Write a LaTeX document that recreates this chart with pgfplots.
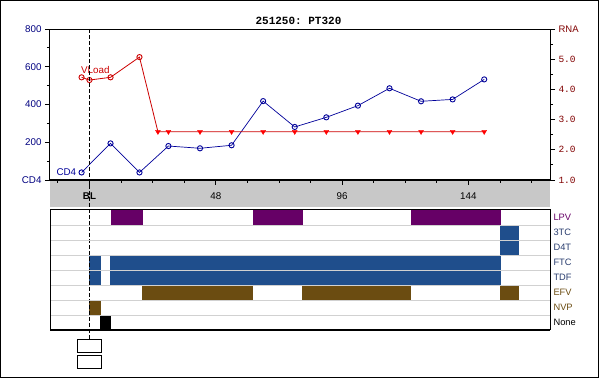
\documentclass[border=0pt]{standalone}
\usepackage{pgfplots}
\pgfplotsset{compat=1.18}
\usepackage{fontspec}
\setmainfont{Liberation Sans}
\setmonofont{Liberation Mono}
\definecolor{cdblue}{RGB}{0,0,153}
\definecolor{navy}{RGB}{0,0,128}
\definecolor{vlred}{RGB}{204,0,0}
\definecolor{darkred}{RGB}{128,0,0}
\definecolor{lpv}{RGB}{102,0,102}
\definecolor{nrti}{RGB}{31,78,140}
\definecolor{nrtilab}{RGB}{40,60,110}
\definecolor{nnrti}{RGB}{107,76,17}
\definecolor{band}{RGB}{200,200,200}

\pgfplotstableread{
x y
-3 40
8 194
19 40
30 180
42 168
54 184
66 418
78 281
90 332
102 394
114 486
126 417
138 427
150 533
}\cdfour

\pgfplotstableread{
x y
-3 4.40
0 4.31
8 4.40
19 5.07
26 2.6
30 2.6
42 2.6
54 2.6
66 2.6
78 2.6
90 2.6
102 2.6
114 2.6
126 2.6
138 2.6
150 2.6
}\vlall

\pgfplotstableread{
x y
-3 4.40
0 4.31
8 4.40
19 5.07
}\vldet

\pgfplotstableread{
x y
26 2.6
30 2.6
42 2.6
54 2.6
66 2.6
78 2.6
90 2.6
102 2.6
114 2.6
126 2.6
138 2.6
150 2.6
}\vlund

\begin{document}
\begin{tikzpicture}
\path[use as bounding box] (0pt,0pt) rectangle (600pt,-379pt);
\draw[line width=1pt] (0.5pt,-0.5pt) rectangle (598.5pt,-377.5pt);
\fill[band] (50pt,-180pt) rectangle (550pt,-207.3pt);
\node[font=\ttfamily\bfseries\fontsize{11}{13}\selectfont] at (298.5pt,-20.5pt) {251250: PT320};

% ---- top panel, CD4 (left axis)
\begin{axis}[at={(50pt,-180pt)}, anchor=south west, width=500pt, height=151pt, scale only axis,
  xmin=-15, xmax=175, ymin=0, ymax=800,
  axis line style={line width=1pt},
  xtick={0,48,96,144}, xticklabels={\textbf{BL},48,96,144},
  minor xtick={-12,12,24,36,60,72,84,108,120,132,156,168},
  ytick={0,200,400,600,800}, yticklabels={CD4,200,400,600,800},
  minor ytick={100,300,500,700},
  tick align=outside, ytick pos=left, xtick pos=bottom,
  major tick length=5pt, minor tick length=3pt,
  tick style={black, line width=0.8pt},
  yticklabel style={text=navy, font=\fontsize{9.8}{11}\selectfont},
  xticklabel style={text=black, font=\fontsize{9.8}{11}\selectfont, anchor=base, yshift=-15pt},
]
\addplot[cdblue, line width=0.7pt, mark=o, mark size=2.6pt, mark options={line width=0.9pt}] table {\cdfour};
\node[text=cdblue, anchor=east, font=\fontsize{9.8}{11}\selectfont, inner sep=1pt] at (axis cs:-4.6,40) {CD4};
\end{axis}

% ---- top panel, RNA (right axis)
\begin{axis}[at={(50pt,-180pt)}, anchor=south west, width=500pt, height=151pt, scale only axis,
  xmin=-15, xmax=175, ymin=1, ymax=6,
  axis x line=none, axis y line*=right,
  axis line style={line width=1pt},
  ytick={1,2,3,4,5,6}, yticklabels={1.0,2.0,3.0,4.0,5.0,{\rmfamily RNA}},
  minor ytick={1.5,2.5,3.5,4.5,5.5},
  tick align=outside,
  major tick length=5pt, minor tick length=3pt,
  tick style={black, line width=0.8pt},
  yticklabel style={text=darkred, font=\ttfamily\fontsize{9.5}{11}\selectfont},
]
\addplot[vlred, line width=0.8pt] table {\vlall};
\addplot[vlred, only marks, mark=o, mark size=2.6pt, mark options={line width=0.9pt}] table {\vldet};
\addplot[red, only marks, mark=triangle*, mark size=2.8pt, mark options={rotate=180}] table {\vlund};
\node[text=vlred, anchor=west, font=\fontsize{9.8}{11}\selectfont, inner sep=1pt] at (axis cs:-3.6,4.63) {VLoad};
\end{axis}

% ---- bottom panel, treatments
\begin{axis}[at={(50pt,-330pt)}, anchor=south west, width=500pt, height=120pt, scale only axis,
  xmin=-15, xmax=175, ymin=0, ymax=8,
  axis line style={line width=1pt},
  xtick=\empty,
  ytick={0.5,1.5,...,7.5},
  yticklabels={None,\textcolor{nnrti}{NVP},\textcolor{nnrti}{EFV},\textcolor{nrtilab}{TDF},\textcolor{nrtilab}{FTC},\textcolor{nrtilab}{D4T},\textcolor{nrtilab}{3TC},\textcolor{lpv}{LPV}},
  yticklabel pos=right,
  minor ytick={1,2,3,4,5,6,7},
  yminorgrids, minor grid style={black!18, line width=0.8pt},
  major tick length=0pt, minor tick length=0pt,
  yticklabel style={font=\fontsize{9.3}{11}\selectfont},
  axis on top, clip=false,
]
% LPV row 7
\addplot[fill=lpv, draw=none] coordinates {(8,7)(20.3,7)(20.3,8)(8,8)} --cycle;
\addplot[fill=lpv, draw=none] coordinates {(62,7)(81,7)(81,8)(62,8)} --cycle;
\addplot[fill=lpv, draw=none] coordinates {(122,7)(156.4,7)(156.4,8)(122,8)} --cycle;
% 3TC row 6
\addplot[fill=nrti, draw=none] coordinates {(156,6)(163.2,6)(163.2,7)(156,7)} --cycle;
% D4T row 5
\addplot[fill=nrti, draw=none] coordinates {(156,5)(163.2,5)(163.2,6)(156,6)} --cycle;
% FTC row 4
\addplot[fill=nrti, draw=none] coordinates {(0,4)(4.4,4)(4.4,5)(0,5)} --cycle;
\addplot[fill=nrti, draw=none] coordinates {(7.9,4)(156.4,4)(156.4,5)(7.9,5)} --cycle;
% TDF row 3
\addplot[fill=nrti, draw=none] coordinates {(0,3)(4.4,3)(4.4,4)(0,4)} --cycle;
\addplot[fill=nrti, draw=none] coordinates {(7.9,3)(156.4,3)(156.4,4)(7.9,4)} --cycle;
% EFV row 2
\addplot[fill=nnrti, draw=none] coordinates {(20,2)(62.1,2)(62.1,3)(20,3)} --cycle;
\addplot[fill=nnrti, draw=none] coordinates {(80.7,2)(122.2,2)(122.2,3)(80.7,3)} --cycle;
\addplot[fill=nnrti, draw=none] coordinates {(156,2)(163.2,2)(163.2,3)(156,3)} --cycle;
% NVP row 1
\addplot[fill=nnrti, draw=none] coordinates {(0,1)(4.4,1)(4.4,2)(0,2)} --cycle;
% None row 0
\addplot[fill=black, draw=none] coordinates {(4.1,0)(8.2,0)(8.2,1)(4.1,1)} --cycle;
% baseline marker (dashed) and boxes
\addplot[black, line width=0.8pt, dash pattern=on 4pt off 2pt] coordinates {(0,20.07)(0,-0.62)};
\addplot[draw=black, fill=white, line width=0.8pt] coordinates {(-4.67,-0.62)(4.7,-0.62)(4.7,-1.51)(-4.67,-1.51)} --cycle;
\addplot[draw=black, fill=white, line width=0.8pt] coordinates {(-4.67,-1.67)(4.7,-1.67)(4.7,-2.55)(-4.67,-2.55)} --cycle;
\draw[line width=1.8pt] (rel axis cs:0,0) -- (rel axis cs:1,0);
\end{axis}
\draw[line width=1.8pt] (50pt,-180pt) -- (550pt,-180pt);
\end{tikzpicture}
\end{document}
